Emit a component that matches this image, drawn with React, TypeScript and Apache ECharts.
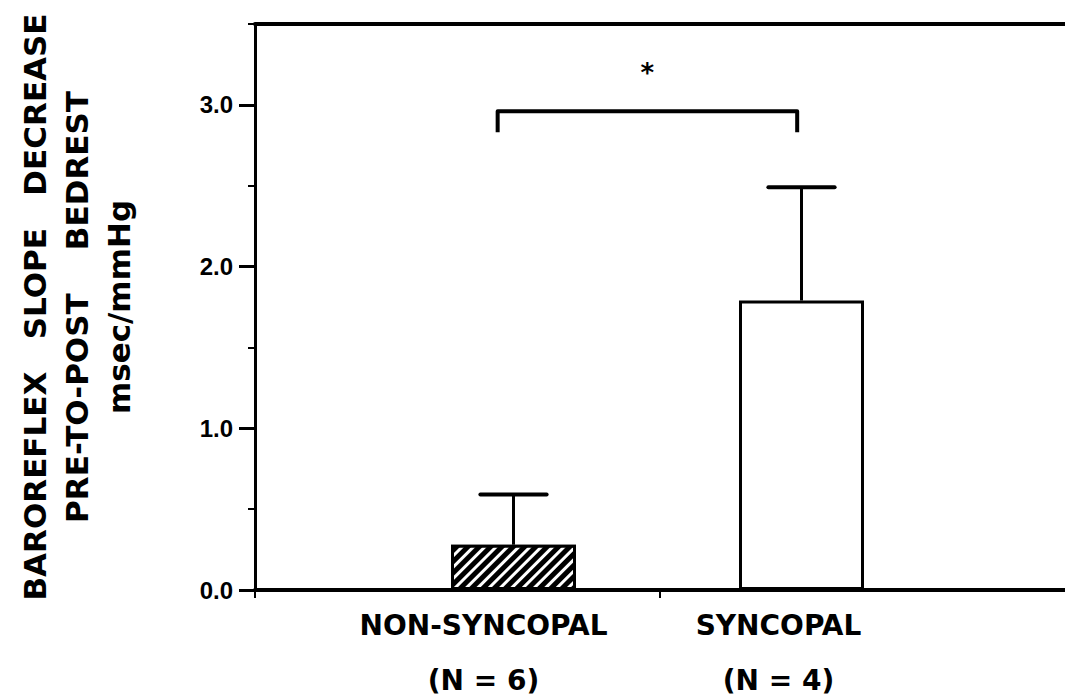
import React, { useEffect, useRef } from "react";
import * as echarts from "echarts";

// ---- data ----
const categories = ["NON-SYNCOPAL", "SYNCOPAL"];
const groupSizes = ["(N = 6)", "(N = 4)"];
const meanDecrease = [0.28, 1.79];
const upperError = [0.59, 2.49];
const yTicks = [0, 1, 2, 3];
const yTickLabels = ["0.0", "1.0", "2.0", "3.0"];
const yMin = 0;
const yMax = 3.5;
const yMinorStep = 0.5;
const bracketTop = 2.96;
const bracketLegBottom = 2.83;
const starValue = 3.22;
const significanceMark = "*";
const yTitleLines = ["BAROREFLEX   SLOPE   DECREASE", "PRE-TO-POST    BEDREST", "msec/mmHg"];

const BLACK = "#000";

export default function App() {
  const ref = useRef<HTMLDivElement>(null);

  useEffect(() => {
    if (!ref.current) return;
    const chart = echarts.init(ref.current, undefined, { renderer: "svg" });

    const labelFont = {
      fontFamily: "DejaVu Sans",
      fontWeight: "bold" as const,
      fontSize: 28,
      color: BLACK,
      lineHeight: 55,
    };

    const option: any = {
      animation: false,
      backgroundColor: "#fff",
      grid: [
        { left: 255, right: 0, top: 24, bottom: 110 },
        { left: 369.5, right: 119.5, top: 24, bottom: 110 },
      ],
      xAxis: [
        {
          gridIndex: 0,
          type: "value",
          min: 0,
          max: 2,
          interval: 1,
          position: "bottom",
          axisLine: { show: true, onZero: false, lineStyle: { color: BLACK, width: 4 } },
          axisTick: { show: true, length: 8, lineStyle: { color: BLACK, width: 2 }, customValues: [0, 1] },
          axisLabel: { show: false },
          splitLine: { show: false },
        },
        {
          gridIndex: 0,
          type: "value",
          min: 0,
          max: 2,
          position: "top",
          axisLine: { show: true, onZero: false, lineStyle: { color: BLACK, width: 4 } },
          axisTick: { show: false },
          axisLabel: { show: false },
          splitLine: { show: false },
        },
        {
          gridIndex: 1,
          type: "category",
          data: categories,
          boundaryGap: true,
          axisLine: { show: false, onZero: false },
          axisTick: { show: false },
          splitLine: { show: false },
          axisLabel: {
            interval: 0,
            margin: 8,
            formatter: (v: string, i: number) => `{n${i}|${v}}\n{g${i}|${groupSizes[i]}}`,
            rich: {
              n0: { ...labelFont, padding: [0, 60, 0, 0] },
              g0: { ...labelFont, padding: [0, 60, 0, 0] },
              n1: { ...labelFont, padding: [0, 46, 0, 0] },
              g1: { ...labelFont, padding: [0, 46, 0, 0] },
            },
          },
        },
      ],
      yAxis: [
        {
          gridIndex: 0,
          type: "value",
          position: "left",
          min: yMin,
          max: yMax,
          interval: 1,
          axisLine: { show: true, onZero: false, lineStyle: { color: BLACK, width: 3 } },
          axisTick: { show: true, length: 16, lineStyle: { color: BLACK, width: 3 }, customValues: yTicks },
          axisLabel: {
            customValues: yTicks,
            formatter: (v: number) => {
              const k = yTicks.indexOf(v);
              return k >= 0 ? yTickLabels[k] : "";
            },
            fontFamily: "Liberation Sans",
            fontWeight: "bold",
            fontSize: 24,
            color: BLACK,
            margin: 22,
          },
          splitLine: { show: false },
          name: yTitleLines.join("\n"),
          nameLocation: "middle",
          nameRotate: 90,
          nameGap: 115,
          nameTextStyle: {
            fontFamily: "DejaVu Sans",
            fontWeight: "bold",
            fontSize: 31,
            lineHeight: 42,
            color: BLACK,
            align: "center",
          },
        },
        {
          gridIndex: 0,
          type: "value",
          position: "left",
          min: yMin,
          max: yMax,
          interval: yMinorStep,
          axisLine: { show: false, onZero: false },
          axisTick: { show: true, length: 7, lineStyle: { color: BLACK, width: 2 } },
          axisLabel: { show: false },
          splitLine: { show: false },
        },
        {
          gridIndex: 1,
          type: "value",
          min: yMin,
          max: yMax,
          show: false,
          splitLine: { show: false },
        },
      ],
      series: [
        {
          type: "bar",
          xAxisIndex: 2,
          yAxisIndex: 2,
          barWidth: 125,
          data: meanDecrease.map((v, i) => ({
            value: v,
            itemStyle:
              i === 0
                ? {
                    color: BLACK,
                    borderColor: BLACK,
                    borderWidth: 3,
                    decal: {
                      symbol: "rect",
                      symbolSize: 1,
                      color: "#fff",
                      dashArrayX: [1, 0],
                      dashArrayY: [2.5, 5],
                      rotation: -Math.PI / 4,
                    },
                  }
                : { color: "#fff", borderColor: BLACK, borderWidth: 3 },
          })),
          z: 2,
        },
        {
          type: "custom",
          xAxisIndex: 2,
          yAxisIndex: 2,
          z: 3,
          data: meanDecrease.map((m, i) => [i, m, upperError[i]]),
          renderItem: (params: any, api: any) => {
            const x = api.value(0);
            const base = api.coord([x, api.value(1)]);
            const top = api.coord([x, api.value(2)]);
            const half = api.size([1, 0])[0] * 0.115;
            return {
              type: "group",
              children: [
                {
                  type: "line",
                  shape: { x1: base[0], y1: base[1], x2: top[0], y2: top[1] },
                  style: { stroke: BLACK, lineWidth: 3 },
                },
                {
                  type: "line",
                  shape: { x1: top[0] - half, y1: top[1], x2: top[0] + half, y2: top[1] },
                  style: { stroke: BLACK, lineWidth: 4, lineCap: "round" },
                },
              ],
            };
          },
        },
        {
          type: "custom",
          xAxisIndex: 2,
          yAxisIndex: 2,
          z: 3,
          data: [[0, 1, bracketTop, bracketLegBottom, starValue]],
          renderItem: (params: any, api: any) => {
            const band = api.size([1, 0])[0];
            const l = api.coord([api.value(0), api.value(2)]);
            const r = api.coord([api.value(1), api.value(2)]);
            const legY = api.coord([api.value(0), api.value(3)])[1];
            const starY = api.coord([api.value(0), api.value(4)])[1];
            const lx = l[0] - band * 0.055;
            const rx = r[0] - band * 0.015;
            return {
              type: "group",
              children: [
                {
                  type: "polyline",
                  shape: { points: [[lx, legY], [lx, l[1]], [rx, r[1]], [rx, legY]] },
                  style: { stroke: BLACK, lineWidth: 4, fill: "none", lineJoin: "round" },
                },
                {
                  type: "text",
                  x: (lx + rx) / 2,
                  y: starY + 4,
                  style: {
                    text: significanceMark,
                    fontFamily: "DejaVu Sans",
                    fontWeight: "bold",
                    fontSize: 26,
                    fill: BLACK,
                    align: "center",
                    verticalAlign: "middle",
                  },
                },
              ],
            };
          },
        },
      ],
    };

    chart.setOption(option);
    return () => chart.dispose();
  }, []);

  return (
    <div
      ref={ref}
      style={{ position: "fixed", left: 0, top: 0, width: 1065, height: 700, background: "#fff" }}
    />
  );
}
